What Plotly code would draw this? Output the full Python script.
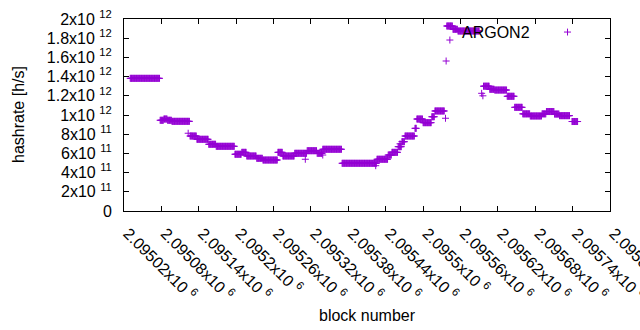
import plotly.graph_objects as go

# ---- data ----
seg_start = [2095030, 2095078, 2095084, 2095090, 2095097, 2095126, 2095137, 2095156, 2095168,
             2095198, 2095209, 2095217, 2095233, 2095243, 2095267, 2095275, 2095294, 2095314,
             2095330, 2095339, 2095370, 2095426, 2095444, 2095450, 2095460, 2095466, 2095471,
             2095487, 2095490, 2095500, 2095514, 2095519, 2095538, 2095548, 2095556, 2095597,
             2095607, 2095615, 2095635, 2095647, 2095660, 2095672, 2095691, 2095698, 2095711,
             2095719, 2095739]
seg_end = [2095078, 2095084, 2095090, 2095097, 2095126, 2095137, 2095156, 2095168, 2095198,
           2095209, 2095217, 2095233, 2095243, 2095267, 2095275, 2095294, 2095314, 2095330,
           2095339, 2095370, 2095426, 2095444, 2095450, 2095460, 2095466, 2095471, 2095487,
           2095490, 2095500, 2095514, 2095519, 2095535, 2095548, 2095556, 2095591, 2095607,
           2095615, 2095635, 2095647, 2095660, 2095672, 2095691, 2095698, 2095711, 2095719,
           2095736, 2095749]
seg_hashrate = [1.382e12, 0.945e12, 0.958e12, 0.945e12, 0.934e12, 0.781e12, 0.747e12, 0.695e12,
                0.674e12, 0.591e12, 0.611e12, 0.573e12, 0.549e12, 0.531e12, 0.611e12, 0.573e12,
                0.601e12, 0.628e12, 0.601e12, 0.643e12, 0.497e12, 0.539e12, 0.583e12, 0.611e12,
                0.670e12, 0.722e12, 0.781e12, 0.861e12, 0.958e12, 0.920e12, 0.982e12, 1.042e12,
                1.927e12, 1.893e12, 1.875e12, 1.300e12, 1.268e12, 1.260e12, 1.195e12, 1.080e12,
                1.012e12, 0.990e12, 1.012e12, 1.036e12, 1.010e12, 0.993e12, 0.932e12]

extra_block = [2095123, 2095311, 2095339, 2095424, 2095463, 2095536, 2095537, 2095543,
               2095594, 2095596]
extra_hashrate = [0.810e12, 0.539e12, 0.583e12, 0.472e12, 0.700e12, 0.966e12, 1.5625e12,
                  1.781e12, 1.226e12, 1.200e12]

x_tickvals = [2095020, 2095080, 2095140, 2095200, 2095260, 2095320, 2095380, 2095440,
              2095500, 2095560, 2095620, 2095680, 2095740, 2095800]
x_ticktext = ["2.09502", "2.09508", "2.09514", "2.0952", "2.09526", "2.09532", "2.09538",
              "2.09544", "2.0955", "2.09556", "2.09562", "2.09568", "2.09574", "2.0958"]
y_tickvals = [0, 2e11, 4e11, 6e11, 8e11, 1e12, 1.2e12, 1.4e12, 1.6e12, 1.8e12, 2e12]
y_mant = ["0", "2", "4", "6", "8", "1", "1.2", "1.4", "1.6", "1.8", "2"]
y_exp = ["", "11", "11", "11", "11", "12", "12", "12", "12", "12", "12"]

series_name = "ARGON2"
color = "#9400D3"

# ---- expand step segments into per-block points ----
blocks, rates = [], []
for s, e, v in zip(seg_start, seg_end, seg_hashrate):
    for b in range(s, e):
        blocks.append(b)
        rates.append(v)
blocks += extra_block
rates += extra_hashrate

NB = "\u00a0"
x_labels = [f"{t}x10{NB}<sup>6</sup>" for t in x_ticktext]
y_labels = [m if not e else f"{m}x10{NB}<sup>{e}</sup>" for m, e in zip(y_mant, y_exp)]

FONT = "Liberation Sans, Arial, sans-serif"
FS = 16

fig = go.Figure()
fig.add_trace(go.Scatter(
    x=blocks, y=rates, mode="markers", name=series_name, showlegend=False,
    marker=dict(symbol="cross-thin", size=5, color=color,
                line=dict(color=color, width=1)),
))

axis_common = dict(showgrid=False, zeroline=False, showline=True, linecolor="black",
                   linewidth=1, mirror="ticks", ticks="inside", ticklen=5,
                   tickcolor="black", automargin=False,
                   tickfont=dict(family=FONT, size=FS, color="black"))

fig.update_xaxes(range=[x_tickvals[0], x_tickvals[-1]], tickvals=x_tickvals,
                 ticktext=x_labels, tickangle=45, ticklabeloverflow="allow",
                 ticklabelstandoff=6, ticklabelshift=4, **axis_common)
fig.update_yaxes(range=[0, 2e12], tickvals=y_tickvals, ticktext=y_labels,
                 ticklabelstandoff=8, **axis_common)

fig.update_layout(
    width=640, height=330,
    margin=dict(l=124, r=30, t=19, b=119, autoexpand=False),
    paper_bgcolor="white", plot_bgcolor="white",
    font=dict(family=FONT, size=FS, color="black"),
    annotations=[
        dict(text="block number", xref="paper", yref="paper", x=0.5, y=0,
             yshift=-104, showarrow=False, xanchor="center", yanchor="middle",
             font=dict(family=FONT, size=FS)),
        dict(text="hashrate [h/s]", xref="paper", yref="paper", x=0, y=0.5,
             xshift=-106, showarrow=False, textangle=-90, xanchor="center",
             yanchor="middle", font=dict(family=FONT, size=FS)),
        dict(text=series_name, xref="paper", yref="paper", x=0.8395, y=0.932,
             showarrow=False, xanchor="right", yanchor="middle",
             font=dict(family=FONT, size=FS)),
    ],
    shapes=[
        dict(type="line", xref="paper", yref="paper", x0=0.9053, x1=0.9198,
             y0=0.932, y1=0.932, line=dict(color=color, width=1)),
        dict(type="line", xref="paper", yref="paper", x0=0.9126, x1=0.9126,
             y0=0.914, y1=0.950, line=dict(color=color, width=1)),
    ],
)

fig.write_html("out.html", config={"displayModeBar": False},
               post_script="document.body.style.margin='0';document.body.style.overflow='hidden';")
